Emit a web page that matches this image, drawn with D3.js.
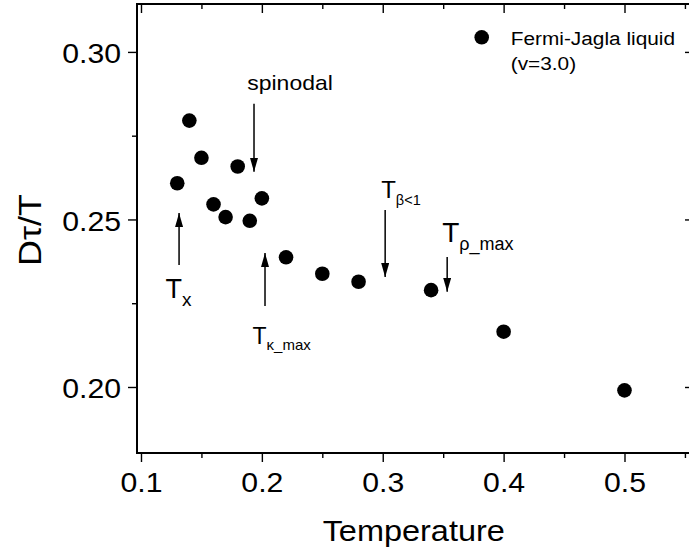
<!DOCTYPE html>
<html>
<head>
<meta charset="utf-8">
<script src="https://cdn.jsdelivr.net/npm/d3@7"></script>
<style>
  body { margin: 0; background: #fff; }
  text { font-family: "Liberation Sans", Arial, sans-serif; fill: #000; }
</style>
</head>
<body>
<div id="chart"></div>
<script>
// data
var temperature = [0.13, 0.14, 0.15, 0.16, 0.17, 0.18, 0.19, 0.20, 0.22, 0.25, 0.28, 0.34, 0.40, 0.50];
var dtauT = [0.2608, 0.2795, 0.2684, 0.2545, 0.2507, 0.2658, 0.2496, 0.2563, 0.2387, 0.2338, 0.2314, 0.2289, 0.2165, 0.1990];

var xMajor = [0.1, 0.2, 0.3, 0.4, 0.5];
var xMinor = [0.15, 0.25, 0.35, 0.45, 0.55];
var yMajor = [0.20, 0.25, 0.30];
var yMinor = [0.225, 0.275];

// annotation arrows (data coords): x, tail y, tip y
var arrows = [
  [0.1315, 0.2364, 0.2519],
  [0.2026, 0.2242, 0.2400],
  [0.1935, 0.2845, 0.2642],
  [0.3020, 0.2528, 0.2328],
  [0.3533, 0.2388, 0.2284]
];
// annotation labels: main text, subscript, x, baseline y
var labels = [
  ["T", "x", 0.1203, 0.2266, 27, 19, 8],
  ["T", "\u03ba_max", 0.1923, 0.2128, 23, 15, 6],
  ["spinodal", "", 0.2233, 0.2887, 20.5, 0, 0],
  ["T", "\u03b2<1", 0.2987, 0.2564, 24, 14.5, 7],
  ["T", "\u03c1_max", 0.3492, 0.2433, 28, 18, 8]
];

var W = 689, H = 554;
var sx = 1.12; // the fonts in the picture run a bit wide
var margin = {top: 4, right: -5, bottom: 101, left: 137},
    width = W - margin.left - margin.right,
    height = H - margin.top - margin.bottom;

var svg = d3.select("#chart")
  .append("svg")
    .attr("width", W)
    .attr("height", H)
  .append("g")
    .attr("transform", "translate(" + margin.left + "," + margin.top + ")");

var x = d3.scaleLinear().domain([0.0967, 0.5575]).range([0, width]);
var y = d3.scaleLinear().domain([0.1803, 0.3143]).range([height, 0]);

// bottom axis
var gx = svg.append("g")
  .attr("transform", "translate(0," + height + ")")
  .call(d3.axisBottom(x).tickValues(xMajor).tickSize(9).tickSizeOuter(0).tickFormat(d3.format(".1f")));
gx.selectAll("text")
  .attr("y", 39).attr("dy", 0)
  .attr("transform", "scale(" + sx + ",1)")
  .style("font-size", "27px");
svg.append("g")
  .attr("transform", "translate(0," + height + ")")
  .call(d3.axisBottom(x).tickValues(xMinor).tickSize(5).tickSizeOuter(0).tickFormat(""));

// top axis, ticks inward
svg.append("g")
  .call(d3.axisBottom(x).tickValues(xMajor).tickSize(9).tickSizeOuter(0).tickFormat(""));
svg.append("g")
  .call(d3.axisBottom(x).tickValues(xMinor).tickSize(5).tickSizeOuter(0).tickFormat(""));

// left axis
var gy = svg.append("g")
  .call(d3.axisLeft(y).tickValues(yMajor).tickSize(9).tickSizeOuter(0).tickFormat(d3.format(".2f")));
gy.selectAll("text")
  .attr("x", -16 / sx).attr("dy", "0.4em")
  .attr("transform", "scale(" + sx + ",1)")
  .style("font-size", "27px");
svg.append("g")
  .call(d3.axisLeft(y).tickValues(yMinor).tickSize(5).tickSizeOuter(0).tickFormat(""));

// right axis, ticks inward
svg.append("g")
  .attr("transform", "translate(" + width + ",0)")
  .call(d3.axisLeft(y).tickValues(yMajor).tickSize(9).tickSizeOuter(0).tickFormat(""));
svg.append("g")
  .attr("transform", "translate(" + width + ",0)")
  .call(d3.axisLeft(y).tickValues(yMinor).tickSize(5).tickSizeOuter(0).tickFormat(""));

svg.selectAll(".domain").remove();
svg.selectAll(".tick line").attr("stroke", "#000").attr("stroke-width", 1.4);

// frame
svg.append("rect")
  .attr("x", 0).attr("y", 0)
  .attr("width", width).attr("height", height)
  .attr("fill", "none").attr("stroke", "#000").attr("stroke-width", 2);

// axis titles
svg.append("text")
  .attr("transform", "translate(" + (x(0.3) + 31) + "," + (height + 88) + ") scale(" + sx + ",1)")
  .attr("text-anchor", "middle")
  .style("font-size", "29px")
  .text("Temperature");

svg.append("text")
  .attr("transform", "translate(" + (41 - margin.left) + "," + (230 - margin.top) + ") rotate(-90) scale(" + sx + ",1)")
  .attr("text-anchor", "middle")
  .style("font-size", "32px")
  .text("D\u03c4/T");

// points
svg.append("g")
  .selectAll("circle")
  .data(temperature)
  .enter().append("circle")
    .attr("cx", function(d) { return x(d); })
    .attr("cy", function(d, i) { return y(dtauT[i]); })
    .attr("r", 7.3)
    .attr("fill", "#000");

// arrows
svg.append("defs").append("marker")
  .attr("id", "head")
  .attr("viewBox", "0 0 14 8")
  .attr("refX", 14).attr("refY", 4)
  .attr("markerWidth", 14).attr("markerHeight", 8)
  .attr("markerUnits", "userSpaceOnUse")
  .attr("orient", "auto")
  .append("path")
    .attr("d", "M0,0L14,4L0,8Z")
    .attr("fill", "#000");

svg.append("g")
  .selectAll("line")
  .data(arrows)
  .enter().append("line")
    .attr("x1", function(d) { return x(d[0]); })
    .attr("x2", function(d) { return x(d[0]); })
    .attr("y1", function(d) { return y(d[1]); })
    .attr("y2", function(d) { return y(d[2]); })
    .attr("stroke", "#000")
    .attr("stroke-width", 1.5)
    .attr("marker-end", "url(#head)");

// annotation labels (the T labels are not stretched, "spinodal" is)
labels.forEach(function(l) {
  var t = svg.append("text")
    .attr("transform", "translate(" + x(l[2]) + "," + y(l[3]) + ")" + (l[1] ? "" : " scale(" + sx + ",1)"))
    .attr("text-anchor", l[1] ? "start" : "middle")
    .style("font-size", l[4] + "px");
  t.append("tspan").text(l[0]);
  if (l[1]) {
    t.append("tspan")
      .attr("dy", l[6])
      .style("font-size", l[5] + "px")
      .text(l[1]);
  }
});

// legend
var leg = svg.append("g")
  .attr("transform", "translate(" + (481.7 - margin.left) + "," + (37.3 - margin.top) + ")");
leg.append("circle").attr("r", 7.3).attr("fill", "#000");
leg.append("text")
  .attr("transform", "translate(29,7.7) scale(" + sx + ",1)")
  .style("font-size", "18.6px")
  .text("Fermi-Jagla liquid");
leg.append("text")
  .attr("transform", "translate(29,32.7) scale(" + sx + ",1)")
  .style("font-size", "18.6px")
  .text("(v=3.0)");
</script>
</body>
</html>
